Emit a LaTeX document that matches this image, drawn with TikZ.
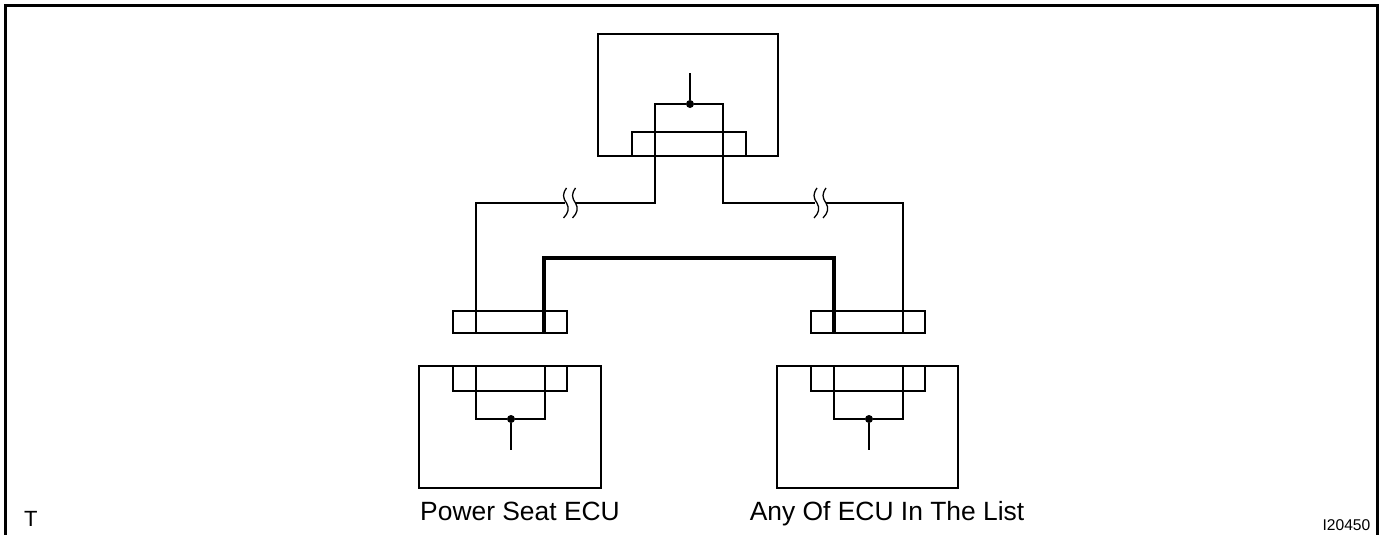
\documentclass[tikz,border=0pt]{standalone}
\usepackage{fontspec}
\setmainfont{Liberation Sans}
\usetikzlibrary{calc,positioning}
\tikzset{
    housing/.style={draw,line width=1.8pt,rectangle,inner sep=0pt,outer sep=0pt},
    wire/.style={line width=1.3pt},
    busline/.style={line width=4pt,line join=miter},
    junction/.style={circle,fill=black,inner sep=0pt,minimum size=8pt},
    caption/.style={inner sep=0pt,font=\fontsize{26.4}{26}\selectfont},
    breakmark/.pic={
        \draw[wire] (-4,-15) .. controls (-8,-9) and (-8,-6) .. (-4,0) .. controls (-1,5) and (-2,10) .. (-7,15);
        \draw[wire] (5,-15) .. controls (1,-9) and (1,-6) .. (5,0) .. controls (8,5) and (7,10) .. (2,15);
    }
}
\begin{document}
\begin{tikzpicture}[x=1pt,y=-1pt]
        \useasboundingbox (0,0) rectangle (1383,535);
        \draw[line width=2.6pt] (5.5,535) -- (5.5,5.5) -- (1377.5,5.5) -- (1377.5,535);

        % control boxes
        \node[housing,minimum width=180pt,minimum height=122pt] (master) at (688,95) {};
        \node[housing,minimum width=182pt,minimum height=122pt] (seat) at (510,427) {};
        \node[housing,minimum width=181pt,minimum height=122pt] (other) at (867.5,427) {};

        % connectors
        \node[housing,minimum width=114pt,minimum height=24pt] (masterconn) at (689,144) {};
        \node[housing,minimum width=114pt,minimum height=22pt] (seatplug) at (510,322) {};
        \node[housing,minimum width=114pt,minimum height=22pt] (otherplug) at (868,322) {};
        \node[housing,minimum width=114pt,minimum height=25pt] (seatconn) at (510,378.5) {};
        \node[housing,minimum width=114pt,minimum height=25pt] (otherconn) at (868,378.5) {};

        % junctions
        \node[junction] (masterdot) at (690,104) {};
        \node[junction] (seatdot) at (511,419) {};
        \node[junction] (otherdot) at (869,419) {};
        \coordinate (masterend) at (690,73);
        \coordinate (seatend) at (511,450);
        \coordinate (otherend) at (869,450);

        % break marks
        \pic (leftbreak) at (570.5,203) {breakmark};
        \pic (rightbreak) at (821,203) {breakmark};
        \coordinate (leftbreakA) at (565,203);
        \coordinate (leftbreakB) at (575,203);
        \coordinate (rightbreakA) at (815,203);
        \coordinate (rightbreakB) at (826,203);

        \draw[wire] (masterdot) -- (masterend);
        \draw[wire] (seatdot) -- (seatend);
        \draw[wire] (otherdot) -- (otherend);
        \draw[wire] (masterdot) -- (655,104) -- (655,203) -- (leftbreakB);
        \draw[wire] (leftbreakA) -- (476,203) -- (476,333);
        \draw[wire] (masterdot) -- (723,104) -- (723,203) -- (rightbreakA);
        \draw[wire] (rightbreakB) -- (903,203) -- (903,333);
        \draw[wire] (476,366) -- (476,419) -- (seatdot);
        \draw[wire] (545,366) -- (545,419) -- (seatdot);
        \draw[wire] (834,366) -- (834,419) -- (otherdot);
        \draw[wire] (903,366) -- (903,419) -- (otherdot);
        \draw[busline] (544,333) -- (544,258) -- (834,258) -- (834,333);

        % labels
        \node[caption,anchor=base] (seatlabel) at (520,520.5) {Power Seat ECU};
        \node[caption,anchor=base] (otherlabel) at (887,520.5) {Any Of ECU In The List};
        \node[inner sep=0pt,anchor=base west,font=\fontsize{22}{22}\selectfont] (cornermark) at (24,526.5) {T};
        \node[inner sep=0pt,anchor=base east,font=\fontsize{15.6}{15}\selectfont] (drawingno) at (1370.5,530.5) {I20450};
\end{tikzpicture}
\end{document}
